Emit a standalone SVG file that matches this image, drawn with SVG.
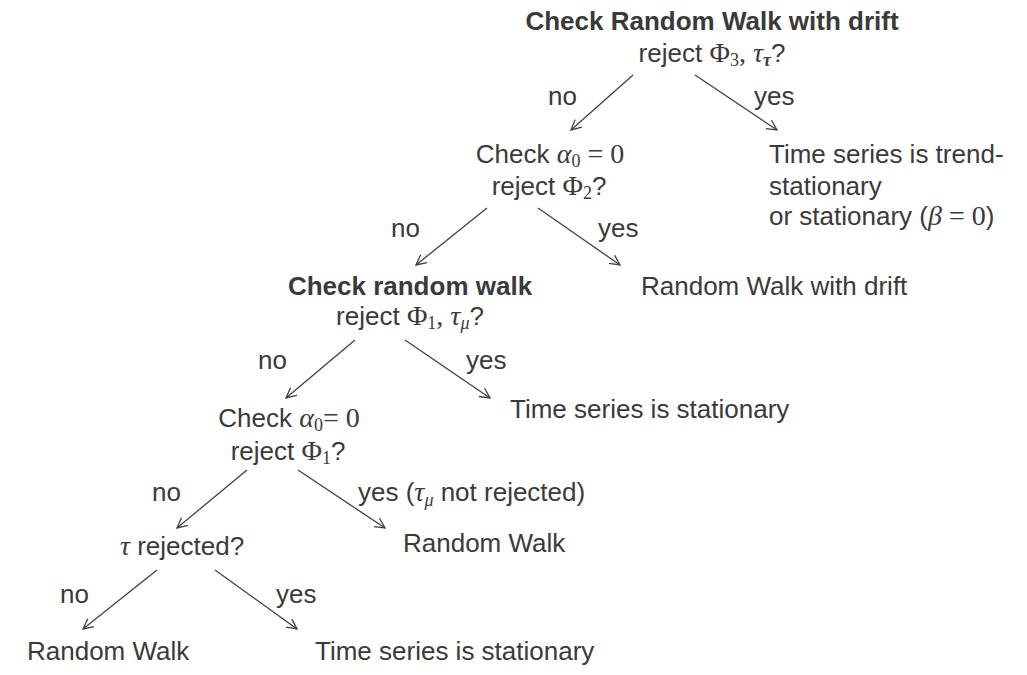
<svg xmlns="http://www.w3.org/2000/svg" width="1027" height="675" viewBox="0 0 1027 675">
<style>
text{font-family:"Liberation Sans",Arial,sans-serif;font-size:26px;fill:#3a3a3a}
.b{font-weight:bold}
.m{font-family:"Liberation Serif","DejaVu Serif",serif;font-size:28px}
.i{font-style:italic}
.s{font-size:18px}
.c{text-anchor:middle}
.e{stroke:#404040;stroke-width:1.3;fill:none;marker-end:url(#ah)}
</style>
<defs>
<marker id="ah" viewBox="0 0 12 12" refX="11" refY="6" markerWidth="12" markerHeight="12" markerUnits="userSpaceOnUse" orient="auto">
<path d="M1,1 L11,6 L1,11" fill="none" stroke="#404040" stroke-width="1.3"/>
</marker>
</defs>
<rect width="1027" height="675" fill="#fff"/>
<g id="connectors">
<line class="e" x1="633" y1="75" x2="571" y2="130"/>
<line class="e" x1="695" y1="75" x2="777" y2="130"/>
<line class="e" x1="487" y1="208" x2="416" y2="265"/>
<line class="e" x1="538" y1="208" x2="620" y2="265"/>
<line class="e" x1="355" y1="340" x2="286" y2="398"/>
<line class="e" x1="405" y1="340" x2="490" y2="398"/>
<line class="e" x1="247" y1="470" x2="177" y2="528"/>
<line class="e" x1="298" y1="470" x2="385" y2="528"/>
<line class="e" x1="157" y1="570" x2="83" y2="629"/>
<line class="e" x1="215" y1="570" x2="297" y2="629"/>
</g>
<g id="labels">
<text x="548" y="105">no</text>
<text x="754" y="105">yes</text>
<text x="391" y="237">no</text>
<text x="598" y="237">yes</text>
<text x="258" y="369">no</text>
<text x="466" y="369">yes</text>
<text x="152" y="501">no</text>
<text x="358" y="501">yes (<tspan class="m i">τ</tspan><tspan class="m i s" dy="5">μ</tspan><tspan dy="-5"> not rejected)</tspan></text>
<text x="60" y="603">no</text>
<text x="276" y="603">yes</text>
</g>
<g id="n1">
<text class="b c" x="712" y="30">Check Random Walk with drift</text>
<text class="c" x="712" y="62">reject <tspan class="m">Φ</tspan><tspan class="m s" dy="4">3</tspan><tspan class="m" dy="-4">, </tspan><tspan class="m i">τ</tspan><tspan class="m i s b" dy="4">τ</tspan><tspan dy="-4">?</tspan></text>
</g>
<g id="n2">
<text class="c" x="550" y="163">Check <tspan class="m i">α</tspan><tspan class="m s" dy="4">0</tspan><tspan class="m" dy="-4"> = 0</tspan></text>
<text class="c" x="549" y="195">reject <tspan class="m">Φ</tspan><tspan class="m s" dy="4">2</tspan><tspan dy="-4">?</tspan></text>
</g>
<g id="n3">
<text x="769" y="163">Time series is trend-</text>
<text x="769" y="195">stationary</text>
<text x="769" y="225">or stationary (<tspan class="m i">β</tspan><tspan class="m"> = 0</tspan>)</text>
</g>
<g id="n4">
<text class="b c" x="410" y="295">Check random walk</text>
<text class="c" x="410" y="325">reject <tspan class="m">Φ</tspan><tspan class="m s" dy="4">1</tspan><tspan class="m" dy="-4">, </tspan><tspan class="m i">τ</tspan><tspan class="m i s" dy="4">μ</tspan><tspan dy="-4">?</tspan></text>
</g>
<g id="n5">
<text x="641" y="295">Random Walk with drift</text>
</g>
<g id="n6">
<text class="c" x="289" y="427">Check <tspan class="m i">α</tspan><tspan class="m s" dy="4">0</tspan><tspan class="m" dy="-4">= 0</tspan></text>
<text class="c" x="288" y="460">reject <tspan class="m">Φ</tspan><tspan class="m s" dy="4">1</tspan><tspan dy="-4">?</tspan></text>
</g>
<g id="n7">
<text x="510" y="418">Time series is stationary</text>
</g>
<g id="n8">
<text class="c" x="182" y="555"><tspan class="m i">τ</tspan> rejected?</text>
</g>
<g id="n9">
<text x="403" y="552">Random Walk</text>
</g>
<g id="n10">
<text x="27" y="660">Random Walk</text>
</g>
<g id="n11">
<text x="315" y="660">Time series is stationary</text>
</g>
</svg>
